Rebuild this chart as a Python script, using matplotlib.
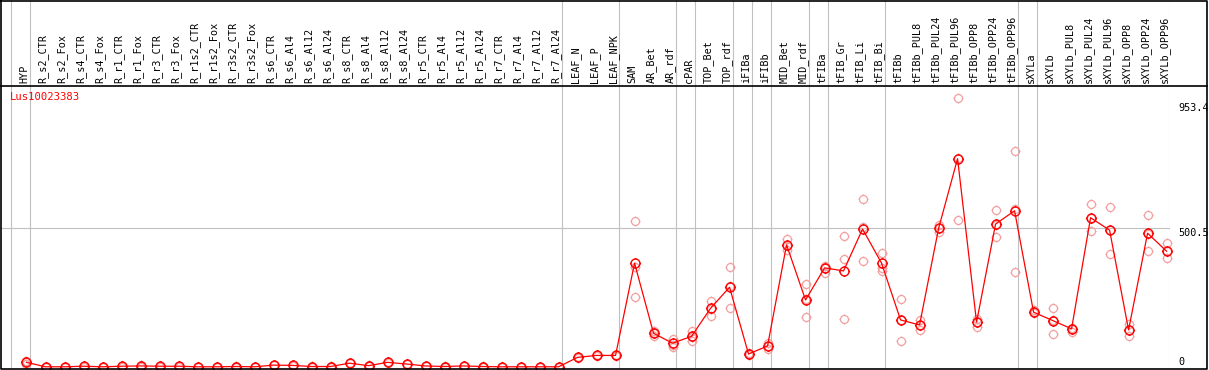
import matplotlib
matplotlib.use("Agg")
import numpy as np
import matplotlib.pyplot as plt
from matplotlib.path import Path

# sample names (columns, left to right)
samples = ['HYP', 'R_s2_CTR', 'R_s2_Fox', 'R_s4_CTR', 'R_s4_Fox', 'R_r1_CTR', 'R_r1_Fox',
           'R_r3_CTR', 'R_r3_Fox', 'R_r1s2_CTR', 'R_r1s2_Fox', 'R_r3s2_CTR', 'R_r3s2_Fox',
           'R_s6_CTR', 'R_s6_Al4', 'R_s6_Al12', 'R_s6_Al24', 'R_s8_CTR', 'R_s8_Al4',
           'R_s8_Al12', 'R_s8_Al24', 'R_r5_CTR', 'R_r5_Al4', 'R_r5_Al12', 'R_r5_Al24',
           'R_r7_CTR', 'R_r7_Al4', 'R_r7_Al12', 'R_r7_Al24', 'LEAF_N', 'LEAF_P', 'LEAF_NPK',
           'SAM', 'AR_Bet', 'AR_rdf', 'cPAR', 'TOP_Bet', 'TOP_rdf', 'iFIBa', 'iFIBb',
           'MID_Bet', 'MID_rdf', 'tFIBa', 'tFIB_Gr', 'tFIB_Li', 'tFIB_Bi', 'tFIBb',
           'tFIBb_PUL8', 'tFIBb_PUL24', 'tFIBb_PUL96', 'tFIBb_OPP8', 'tFIBb_OPP24',
           'tFIBb_OPP96', 'sXYLa', 'sXYLb', 'sXYLb_PUL8', 'sXYLb_PUL24', 'sXYLb_PUL96',
           'sXYLb_OPP8', 'sXYLb_OPP24', 'sXYLb_OPP96']

# mean expression per sample
means = [16, 0, 0, 2, 0, 2, 3, 2, 2, 0, 0, 1, 0,
         6, 5, 1, 1, 13, 4, 16, 10, 3, 1, 3, 1, 0, 0, 0, 0,
         34, 41, 41,
         374, 121, 85, 110, 211, 287, 46, 75, 440, 241,
         357, 346, 497, 374, 169, 151, 499, 751, 161, 515, 563,
         197, 167, 137, 538, 493, 133, 482, 417]

# replicate values per sample
replicates = [(22, 10, 16), (1, 0, 0), (1, 0, 0), (3, 2, 1), (1, 0, 0), (3, 2, 1), (7, 2, 1),
              (3, 2, 1), (3, 2, 1), (1, 0, 0), (1, 0, 0), (2, 1, 0), (1, 0, 0),
              (7, 6, 5), (6, 5, 4), (2, 1, 0), (2, 1, 0), (14, 13, 12), (5, 4, 3),
              (17, 16, 15), (11, 10, 9), (4, 3, 2), (2, 1, 0), (4, 3, 2), (2, 1, 0),
              (1, 0, 0), (1, 0, 0), (1, 0, 0), (1, 0, 0),
              (36, 32, 34), (43, 40, 41), (42, 40, 41),
              (526, 360, 251), (130, 111, 122), (102, 73, 80), (128, 94, 108),
              (238, 185, 210), (360, 211, 290), (51, 41, 46), (87, 63, 75),
              (462, 422, 436), (298, 179, 246), (364, 340, 357), (472, 388, 173),
              (606, 506, 383), (410, 356, 344), (245, 92, 170), (169, 133, 151),
              (512, 488, 499), (970, 530, 753), (173, 145, 161), (567, 468, 510),
              (779, 341, 569), (205, 193, 197), (211, 117, 170), (141, 127, 137),
              (587, 491, 536), (578, 408, 493), (155, 110, 133), (549, 417, 480),
              (447, 392, 417)]

# last column index of each tissue group (grey separators)
group_ends = [-1, 0, 28, 31, 34, 35, 37, 38, 39, 41, 42, 45, 52, 53, 60]

gene = 'Lus10023383'
y_marks = [953.4, 500.5, 0]

W, H = 1209, 370
fig = plt.figure(figsize=(W / 100, H / 100), dpi=100)

# pixel layout
left_px, right_px = 1, 1170
head_bot = 85.5
plot_bot = 369
xmin, xmax = -1.342, 60.18
ymin, ymax = -8, 1015

mono = 'DejaVu Sans Mono'
fs = 7.3
grey = '#c0c0c0'

ax_head = fig.add_axes([left_px / W, 1 - head_bot / H, (right_px - left_px) / W, head_bot / H])
ax = fig.add_axes([left_px / W, 1 - plot_bot / H, (right_px - left_px) / W, (plot_bot - head_bot) / H])

for a in (ax_head, ax):
    a.set_xlim(xmin, xmax)
    a.axis('off')
    for g in group_ends:
        a.axvline(g + 0.2, color=grey, lw=0.8, zorder=0)

ax_head.set_ylim(0, 1)
for i, s in enumerate(samples):
    ax_head.text(i - 0.12, 0.03, s, rotation=90, ha='center', va='bottom',
                 family=mono, fontsize=fs, color='black')

ax.set_ylim(ymin, ymax)
ax.axhline(500.5, color=grey, lw=0.8, zorder=0)

# custom marker: ring with four short ticks
t = np.linspace(0, 2 * np.pi, 33)
ring = list(zip(np.cos(t), np.sin(t)))
tk = 1.25
verts = ring + [(0, 1), (0, tk), (0, -1), (0, -tk), (1, 0), (tk, 0), (-1, 0), (-tk, 0)]
codes = [Path.MOVETO] + [Path.LINETO] * (len(ring) - 1) + [Path.MOVETO, Path.LINETO] * 4
marker = Path(verts, codes)

xs = list(range(len(samples)))
for k in range(3):
    ax.plot(xs, [r[k] for r in replicates], linestyle='none', marker=marker, markersize=7.2,
            markerfacecolor='none', markeredgecolor='#f2a0a0', markeredgewidth=0.9, zorder=2,
            clip_on=False)
ax.plot(xs, means, color='red', lw=0.9, marker=marker, markersize=8,
        markerfacecolor='none', markeredgecolor='red', markeredgewidth=1.0, zorder=3,
        clip_on=False)

tr = ax.get_yaxis_transform()
for v in y_marks:
    label = '0' if v == 0 else f'{v:.1f}'
    ax.text(1.0072, v, label, transform=tr, ha='left', va='bottom' if v == 0 else 'top',
            family=mono, fontsize=fs, color='black', clip_on=False)

# outer frame and header line
frame = fig.add_axes([0, 0, 1, 1], zorder=5)
frame.set_xlim(0, W)
frame.set_ylim(H, 0)
frame.axis('off')
frame.patch.set_alpha(0)
frame.plot([1, 1207, 1207, 1, 1], [0.5, 0.5, 369, 369, 0.5], color='black', lw=1.2)
frame.plot([1, 1207], [head_bot, head_bot], color='black', lw=1.2)
frame.text(10, 97, gene, color='red', family=mono, fontsize=7.6, va='center', ha='left')

fig.savefig('out.png', dpi=100)
